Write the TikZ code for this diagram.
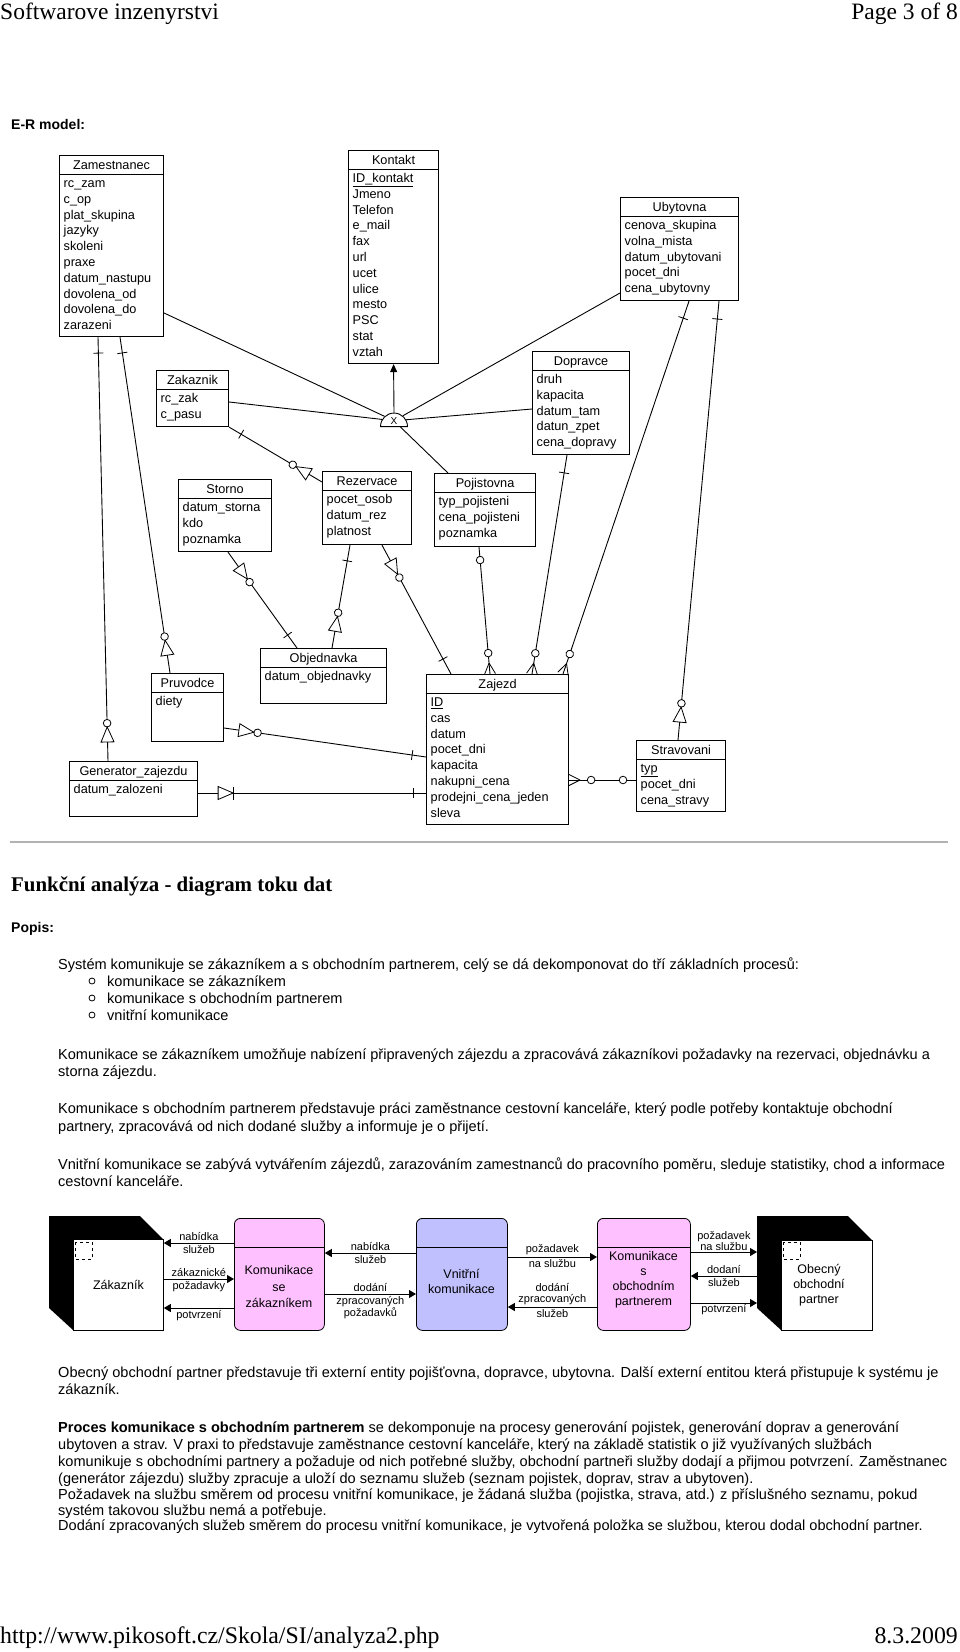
\documentclass[tikz,border=0pt]{standalone}
\usepackage{fontspec}
\setmainfont{Liberation Sans}
\newfontfamily\seriffont{Liberation Serif}
\usetikzlibrary{arrows.meta,decorations.markings,shapes.geometric}

\definecolor{procpink}{RGB}{255,192,255}
\definecolor{proclav}{RGB}{192,192,255}
\newcommand{\setfs}[2]{\fontsize{#1}{#2}\selectfont}

\tikzset{
  one/.style={postaction={decorate,decoration={markings,
      mark=at position #1 with {\draw[line width=0.8pt] (0pt,-5pt) -- (0pt,5pt);}}}},
  zero/.style={postaction={decorate,decoration={markings,
      mark=at position #1 with {\draw[line width=0.8pt,fill=white] (0pt,0pt) circle (3.8pt);}}}},
  isa/.style={postaction={decorate,decoration={markings,
      mark=at position #1 with {\draw[line width=0.8pt,fill=white] (-3.8pt,0pt) circle (3.8pt);
        \draw[line width=0.8pt,fill=white] (0pt,0pt) -- (15pt,6.5pt) -- (15pt,-6.5pt) -- cycle;}}}},
  isabar/.style={postaction={decorate,decoration={markings,
      mark=at position #1 with {\draw[line width=0.8pt] (0pt,-6.5pt) -- (0pt,6.5pt);
        \draw[line width=0.8pt,fill=white] (0pt,0pt) -- (15pt,6.5pt) -- (15pt,-6.5pt) -- cycle;}}}},
  manyend/.style={postaction={decorate,decoration={markings,
      mark=at position -11pt with {\draw[line width=0.8pt] (0pt,0pt) -- (11pt,5.5pt) (0pt,0pt) -- (11pt,-5.5pt);}}}},
  manystart/.style={postaction={decorate,decoration={markings,
      mark=at position 11pt with {\draw[line width=0.8pt] (0pt,0pt) -- (-11pt,5.5pt) (0pt,0pt) -- (-11pt,-5.5pt);}}}}
}

% one entity of the E-R model: name, x, y, width, height, title, attributes
\newcommand{\ermbox}[7]{%
  \node[entity,minimum width=#4,minimum height=#5] (#1) at (#2,#3) {};
  \node[etitle] (#1-title) at ([yshift=-14.5pt]#1.north) {#6};
  \draw[line width=1.1pt] ([yshift=-19.5pt]#1.north west) -- ([yshift=-19.5pt]#1.north east);
  \foreach \a [count=\i] in {#7}{
    \pgfmathsetmacro\ay{-32.5-15.8*(\i-1)}
    \node[eattr] (#1-\i) at ([xshift=4.5pt,yshift=\ay pt]#1.north west) {\a};
  }
}

\begin{document}
\begin{tikzpicture}[x=1pt,y=-1pt,
    entity/.style={draw,fill=white,line width=1.1pt,anchor=north west,inner sep=0pt},
    etitle/.style={anchor=base,inner sep=0pt,font=\setfs{12.7}{14}},
    eattr/.style={anchor=base west,inner sep=0pt,font=\setfs{12.7}{14}},
    erline/.style={line width=0.9pt},
    body/.style={anchor=base west,inner sep=0pt,font=\setfs{14.55}{17}}]
  \tikzstyle{proc}=[draw,line width=0.8pt,rounded corners=6pt,anchor=north west,minimum height=112pt,inner sep=0pt]
  \tikzstyle{extent}=[draw,fill=white,line width=0.8pt,anchor=north west,inner sep=0pt]
  \tikzstyle{ptext}=[align=center,inner sep=0pt,font=\setfs{12.5}{15.5}]
  \tikzstyle{flow}=[draw,line width=1pt,-{Triangle[length=7pt,width=8pt]}]
  \tikzstyle{lbl}=[inner sep=1.5pt,align=center,font=\setfs{11}{12}]

  \fill[white] (0,0) rectangle (960,1652);
  \useasboundingbox (0,0) rectangle (960,1652);

  % page header and footer
  \node[anchor=base west,inner sep=0pt,font=\seriffont\setfs{23.5}{26}] (head) at (0,19) {Softwarove inzenyrstvi};
  \node[anchor=base east,inner sep=0pt,font=\seriffont\setfs{23.5}{26}] (page) at (958,19) {Page 3 of 8};
  \node[anchor=base west,inner sep=0pt,font=\seriffont\setfs{23.8}{26}] (url) at (0,1643) {http://www.pikosoft.cz/Skola/SI/analyza2.php};
  \node[anchor=base east,inner sep=0pt,font=\seriffont\setfs{23.8}{26}] (date) at (958,1643) {8.3.2009};

  \node[body,font=\bfseries\setfs{14}{17}] (ermodel) at (11,129) {E-R model:};

  % entities
  \ermbox{zam}{59}{155}{104}{181}{Zamestnanec}{rc\_zam,c\_op,plat\_skupina,jazyky,skoleni,praxe,datum\_nastupu,dovolena\_od,dovolena\_do,zarazeni}
  \ermbox{kon}{348}{150}{90}{213}{Kontakt}{\underline{ID\_kontakt},Jmeno,Telefon,e\_mail,fax,url,ucet,ulice,mesto,PSC,stat,vztah}
  \ermbox{zak}{156}{370}{72}{56}{Zakaznik}{rc\_zak,c\_pasu}
  \ermbox{uby}{620}{197}{118}{103}{Ubytovna}{cenova\_skupina,volna\_mista,datum\_ubytovani,pocet\_dni,cena\_ubytovny}
  \ermbox{dop}{532}{351}{97}{103}{Dopravce}{druh,kapacita,datum\_tam,datun\_zpet,cena\_dopravy}
  \ermbox{poj}{434}{473}{101}{73}{Pojistovna}{typ\_pojisteni,cena\_pojisteni,poznamka}
  \ermbox{rez}{322}{471}{89}{73}{Rezervace}{pocet\_osob,datum\_rez,platnost}
  \ermbox{sto}{178}{479}{93}{72}{Storno}{datum\_storna,kdo,poznamka}
  \ermbox{obj}{260}{648}{126}{55}{Objednavka}{datum\_objednavky}
  \ermbox{pru}{151}{673}{72}{68}{Pruvodce}{diety}
  \ermbox{gen}{69}{761}{128}{55}{Generator\_zajezdu}{datum\_zalozeni}
  \ermbox{zaj}{426}{674}{142}{150}{Zajezd}{\underline{ID},cas,datum,pocet\_dni,kapacita,nakupni\_cena,prodejni\_cena\_jeden,sleva}
  \ermbox{str}{636}{740}{89}{71}{Stravovani}{\underline{typ},pocet\_dni,cena\_stravy}

  % exclusive relation to Kontakt
  \node[semicircle,draw,fill=white,line width=0.9pt,inner sep=0pt,minimum width=27pt,minimum height=13pt,anchor=chord center] (xrel) at (394,427) {\setfs{10}{10}X};
  \draw[erline] ([yshift=-158pt]zam.north east) -- (xrel);
  \draw[erline] ([yshift=-32pt]zak.north east) -- (xrel);
  \draw[erline] (xrel) -- ([yshift=-96pt]uby.north west);
  \draw[erline] (xrel) -- ([yshift=-58pt]dop.north west);
  \draw[erline] (xrel) -- ([xshift=14pt]poj.north west);
  \draw[erline,-{Triangle[length=8pt,width=7pt]}] (xrel.apex) -- (kon.south);

  % relationships
  \draw[erline,one=16pt,isa=-34pt] ([xshift=39pt]zam.south west) -- ([xshift=39pt]gen.north west);
  \draw[erline,one=16pt,isa=-33pt] ([xshift=61pt]zam.south west) -- ([xshift=19pt]pru.north west);
  \draw[erline,one=14pt,isa=-30pt] (zak.south east) -- ([yshift=-11pt]rez.north west);
  \draw[erline,one=16pt,isa=-33pt] ([xshift=37pt]obj.north west) -- ([xshift=50pt]sto.south west);
  \draw[erline,one=16pt,isa=-32pt] ([xshift=28pt]rez.south west) -- ([xshift=72pt]obj.north west);
  \draw[erline,one=17pt,isa=-33pt] ([xshift=25pt]zaj.north west) -- ([xshift=60pt]rez.south west);
  \draw[erline,one=14pt,isa=-30pt] ([yshift=-83pt]zaj.north west) -- ([yshift=-55pt]pru.north east);
  \draw[erline,one=13pt,isabar=-35pt] ([yshift=-119pt]zaj.north west) -- ([yshift=-32pt]gen.north east);
  \draw[erline,one=18pt,zero=-21pt,manyend] ([xshift=69pt]uby.south west) -- ([xshift=137pt]zaj.north west);
  \draw[erline,one=18pt,zero=-21pt,manyend] ([xshift=35pt]dop.south west) -- ([xshift=106pt]zaj.north west);
  \draw[erline,zero=13pt,zero=-21pt,manyend] ([xshift=45pt]poj.south west) -- ([xshift=64pt]zaj.north west);
  \draw[erline,one=18pt,isa=-33pt] ([xshift=99pt]uby.south west) -- ([xshift=42pt]str.north west);
  \draw[erline,manystart,zero=22pt,zero=-13pt] ([yshift=-106pt]zaj.north east) -- ([yshift=-40pt]str.north west);

  % section rule and description
  \draw[gray!60,line width=1.5pt] (10,842) -- (948,842);
  \node[body,font=\seriffont\bfseries\setfs{20.9}{23}] (fa) at (11,891) {Funkční analýza - diagram toku dat};
  \node[body,font=\bfseries\setfs{14}{17}] (popis) at (11,932) {Popis:};

  \node[body] (intro) at (58,969) {Systém komunikuje se zákazníkem a s obchodním partnerem, celý se dá dekomponovat do tří základních procesů:};
  \foreach \y/\t [count=\i] in {981/komunikace se zákazníkem,998/komunikace s obchodním partnerem,1015/vnitřní komunikace}{
    \draw[line width=0.8pt] (92,\y) circle (3pt);
    \node[body] (item-\i) at (107,\y+5) {\t};
  }

  \foreach \y/\t [count=\i] in {
    1059/{Komunikace se zákazníkem umožňuje nabízení připravených zájezdu a zpracovává zákazníkovi požadavky na rezervaci, objednávku a},
    1076/{storna zájezdu.},
    1113/{Komunikace s obchodním partnerem představuje práci zaměstnance cestovní kanceláře, který podle potřeby kontaktuje obchodní},
    1131/{partnery, zpracovává od nich dodané služby a informuje je o přijetí.},
    1169/{Vnitřní komunikace se zabývá vytvářením zájezdů, zarazováním zamestnanců do pracovního poměru, sleduje statistiky, chod a informace},
    1186/{cestovní kanceláře.}}
    \node[body] (para-\i) at (58,\y) {\t};

  % data flow diagram
  \fill (49,1216) -- (140,1216) -- (163,1239) -- (163,1330) -- (73,1330) -- (49,1308) -- cycle;
  \node[extent,minimum width=90pt,minimum height=91pt,font=\setfs{12.5}{15}] (zak2) at (73,1239) {Zákazník};
  \draw[dashed,line width=0.8pt] (75,1242) rectangle (92,1259);

  \fill (757,1216) -- (848,1216) -- (872,1240) -- (872,1330) -- (781,1330) -- (757,1308) -- cycle;
  \node[inner sep=0pt,minimum width=115pt,minimum height=114pt,anchor=north west] (oopout) at (757,1216) {};
  \node[extent,minimum width=91pt,minimum height=90pt] (oop) at (781,1240) {};
  \draw[dashed,line width=0.8pt] (783,1242) rectangle (800,1259);
  \node[ptext,font=\setfs{12.5}{15}] (oop-t) at (819,1285) {Obecný\\obchodní\\partner};

  \node[proc,fill=procpink,minimum width=90pt] (kse) at (234,1218) {};
  \node[proc,fill=proclav,minimum width=91pt] (vk) at (416,1218) {};
  \node[proc,fill=procpink,minimum width=93pt] (kso) at (597,1218) {};
  \foreach \p in {kse,vk,kso}
    \draw[line width=0.8pt] ([yshift=-29pt]\p.north west) -- ([yshift=-29pt]\p.north east);
  \node[ptext,font=\setfs{12.5}{16.5}] (kse-t) at (279,1287) {Komunikace\\se\\zákazníkem};
  \node[ptext,font=\setfs{12.5}{15}] (vk-t) at (461.5,1281) {Vnitřní\\komunikace};
  \node[ptext,font=\setfs{12.5}{15}] (kso-t) at (643.5,1280) {Komunikace\\s\\obchodním\\partnerem};

  \path[flow] (kse.west |- 0,1243) -- (zak2.east |- 0,1243)
    node[lbl,midway,above] (f1a) {nabídka} node[lbl,midway,below] (f1b) {služeb};
  \path[flow] (zak2.east |- 0,1279) -- (kse.west |- 0,1279)
    node[lbl,midway,above] (f2a) {zákaznické} node[lbl,midway,below] (f2b) {požadavky};
  \path[flow] (kse.west |- 0,1308) -- (zak2.east |- 0,1308)
    node[lbl,midway,below] (f3) {potvrzení};
  \path[flow] (vk.west |- 0,1253) -- (kse.east |- 0,1253)
    node[lbl,midway,above] (f4a) {nabídka} node[lbl,midway,below] (f4b) {služeb};
  \path[flow] (kse.east |- 0,1294) -- (vk.west |- 0,1294)
    node[lbl,midway,above] (f5a) {dodání} node[lbl,midway,below] (f5b) {zpracovaných\\požadavků};
  \path[flow] (vk.east |- 0,1257) -- (kso.west |- 0,1257)
    node[lbl,midway,above] (f6a) {požadavek} node[lbl,midway,below] (f6b) {na službu};
  \path[flow] (kso.west |- 0,1307) -- (vk.east |- 0,1307)
    node[lbl,midway,above,font=\setfs{11}{11.5}] (f7a) {dodání\\zpracovaných} node[lbl,midway,below] (f7b) {služeb};
  \path[flow] (kso.east |- 0,1252) -- (oopout.west |- 0,1252)
    node[lbl,midway,above,inner sep=0.5pt,font=\setfs{11}{10}] (f8) {požadavek\\na službu};
  \path[flow] (oopout.west |- 0,1276) -- (kso.east |- 0,1276)
    node[lbl,midway,above] (f9a) {dodaní} node[lbl,midway,below] (f9b) {služeb};
  \path[flow] (kso.east |- 0,1303) -- (oopout.west |- 0,1303)
    node[lbl,midway,below,inner sep=0.5pt] (f10) {potvrzení};

  % closing paragraphs
  \foreach \y/\t [count=\i] in {
    1377/{Obecný obchodní partner představuje tři externí entity pojišťovna, dopravce, ubytovna. Další externí entitou která přistupuje k systému je},
    1394/{zákazník.},
    1432/{\textbf{Proces komunikace s obchodním partnerem} se dekomponuje na procesy generování pojistek, generování doprav a generování},
    1449/{ubytoven a strav. V praxi to představuje zaměstnance cestovní kanceláře, který na základě statistik o již využívaných službách},
    1466/{komunikuje s obchodními partnery a požaduje od nich potřebné služby, obchodní partneři služby dodají a přijmou potvrzení. Zaměstnanec},
    1483/{(generátor zájezdu) služby zpracuje a uloží do seznamu služeb (seznam pojistek, doprav, strav a ubytoven).},
    1499/{Požadavek na službu směrem od procesu vnitřní komunikace, je žádaná služba (pojistka, strava, atd.) z příslušného seznamu, pokud},
    1515/{systém takovou službu nemá a potřebuje.},
    1530/{Dodání zpracovaných služeb směrem do procesu vnitřní komunikace, je vytvořená položka se službou, kterou dodal obchodní partner.}}
    \node[body] (end-\i) at (58,\y) {\t};
\end{tikzpicture}
\end{document}
